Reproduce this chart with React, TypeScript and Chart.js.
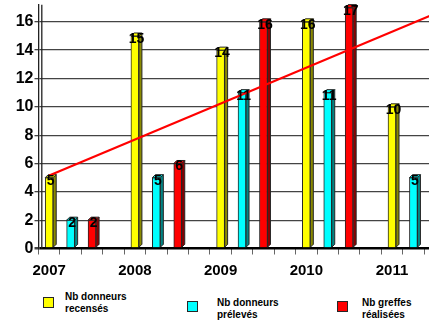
import React, { useEffect, useRef } from "react";
import { Chart, registerables } from "chart.js";

Chart.register(...registerables);

// Values per year
const years = ["2007", "2008", "2009", "2010", "2011"];
const recenses = [5, 15, 14, 16, 10];
const preleves = [2, 5, 11, 11, 5];
const greffes: (number | null)[] = [2, 6, 16, 17, null];

// Straight trend line, value at the first and at the last slot
const trendStart = 5.15;
const trendEnd = 17.2;

const seriesNames = ["Nb donneurs recensés", "Nb donneurs prélevés", "Nb greffes réalisées"];
const yTicks = [0, 2, 4, 6, 8, 10, 12, 14, 16];

// Each year takes four slots on the axis: three bars and a gap
const SLOTS = 4;
const slotLabels = years.flatMap((y) => [y, "", "", ""]);
const place = (values: (number | null)[], offset: number) => {
  const out: (number | null)[] = new Array(years.length * SLOTS).fill(null);
  values.forEach((v, i) => (out[i * SLOTS + offset] = v));
  return out;
};
const trendData = (() => {
  const out: (number | null)[] = new Array(years.length * SLOTS).fill(null);
  out[0] = trendStart;
  out[out.length - 1] = trendEnd;
  return out;
})();

const FRONT = ["#ffff00", "#00ffff", "#ff0000"];
const SIDE = ["#8a8a00", "#008585", "#8a0000"];
const EDGE = "#262626";
const DEPTH = 3;
const FONT = "'Liberation Sans', Arial, Helvetica, sans-serif";

const bar3d = {
  id: "bar3d",
  beforeDatasetsDraw(chart: any) {
    const { ctx, chartArea } = chart;
    ctx.save();
    ctx.strokeStyle = "#222";
    ctx.lineWidth = 1.3;
    ctx.beginPath();
    ctx.moveTo(chartArea.left + 3.3, chartArea.top);
    ctx.lineTo(chartArea.left + 3.3, chartArea.bottom);
    ctx.stroke();
    ctx.restore();
  },
  afterDatasetDraw(chart: any, args: any) {
    const meta = args.meta;
    if (meta.type !== "bar") return;
    const ds = chart.data.datasets[args.index];
    const seriesIdx = ds.seriesIndex;
    const { ctx } = chart;
    ctx.save();
    ctx.lineWidth = 1;
    ctx.strokeStyle = EDGE;
    meta.data.forEach((el: any, i: number) => {
      if (ds.data[i] == null) return;
      const { x, y, base, width } = el.getProps(["x", "y", "base", "width"], true);
      const l = x - width / 2;
      const r = x + width / 2;
      // side face
      ctx.fillStyle = SIDE[seriesIdx];
      ctx.beginPath();
      ctx.moveTo(r, y);
      ctx.lineTo(r + DEPTH, y - DEPTH);
      ctx.lineTo(r + DEPTH, base - DEPTH);
      ctx.lineTo(r, base);
      ctx.closePath();
      ctx.fill();
      ctx.stroke();
      // top face
      ctx.fillStyle = FRONT[seriesIdx];
      ctx.beginPath();
      ctx.moveTo(l, y);
      ctx.lineTo(l + DEPTH, y - DEPTH);
      ctx.lineTo(r + DEPTH, y - DEPTH);
      ctx.lineTo(r, y);
      ctx.closePath();
      ctx.fill();
      ctx.stroke();
    });
    ctx.restore();
  },
  afterDatasetsDraw(chart: any) {
    const { ctx, chartArea } = chart;
    ctx.save();
    ctx.beginPath();
    ctx.rect(chartArea.left, chartArea.top, chartArea.right - chartArea.left, chartArea.bottom - chartArea.top);
    ctx.clip();
    ctx.font = `bold 14px ${FONT}`;
    ctx.textAlign = "center";
    ctx.textBaseline = "alphabetic";
    ctx.fillStyle = "#000";
    chart.data.datasets.forEach((ds: any, di: number) => {
      if (ds.type !== "bar") return;
      const meta = chart.getDatasetMeta(di);
      meta.data.forEach((el: any, i: number) => {
        const v = ds.data[i];
        if (v == null) return;
        const { x, y } = el.getProps(["x", "y"], true);
        ctx.fillText(String(v), x + 1.5, y + 7);
      });
    });
    ctx.restore();
  },
};

function ChartCanvas() {
  const ref = useRef<HTMLCanvasElement>(null);
  useEffect(() => {
    if (!ref.current) return;
    const series = [recenses, preleves, greffes];
    const chart = new Chart(ref.current, {
      type: "bar",
      data: {
        labels: slotLabels,
        datasets: [
          {
            type: "line",
            label: "Tendance",
            data: trendData,
            borderColor: "#ff0000",
            borderWidth: 2.2,
            pointRadius: 0,
            spanGaps: true,
            tension: 0,
            order: 0,
          } as any,
          ...series.map((vals, s) => ({
            type: "bar",
            label: seriesNames[s],
            seriesIndex: s,
            data: place(vals, s),
            backgroundColor: FRONT[s],
            borderColor: EDGE,
            borderWidth: 1,
            barThickness: 8,
            grouped: false,
            order: 1,
          })),
        ] as any,
      },
      options: {
        animation: false,
        responsive: false,
        layout: { padding: { top: 4.8, left: 0, right: 3, bottom: 0 } },
        plugins: { legend: { display: false }, tooltip: { enabled: false } },
        scales: {
          x: {
            type: "category",
            offset: true,
            grid: {
              offset: true,
              drawOnChartArea: false,
              drawTicks: true,
              tickLength: 6,
              color: "#666",
            },
            border: { display: false },
            ticks: {
              autoSkip: false,
              maxRotation: 0,
              minRotation: 0,
              padding: 7.5,
              color: "#000",
              font: { family: FONT, size: 15, weight: "bold" },
            },
            afterFit(scale: any) {
              scale.height = 36.5;
              scale.paddingLeft = 0;
              scale.paddingRight = 0;
            },
          },
          y: {
            min: 0,
            max: 17.2,
            grid: {
              color: (c: any) => (c.tick && c.tick.value === 0 ? "#000" : "#444"),
              lineWidth: (c: any) => (c.tick && c.tick.value === 0 ? 2.5 : 1.3),
              drawTicks: true,
              tickLength: 4,
              tickColor: "#444",
            },
            border: { display: true, color: "#222", width: 1.3 },
            ticks: {
              padding: 1,
              color: "#000",
              font: { family: FONT, size: 16, weight: "bold" },
            },
            afterBuildTicks(scale: any) {
              scale.ticks = yTicks.map((v) => ({ value: v }));
            },
            afterFit(scale: any) {
              scale.width = 38.5;
              scale.paddingTop = 0;
              scale.paddingBottom = 0;
            },
          },
        },
      } as any,
      plugins: [bar3d],
    });
    return () => chart.destroy();
  }, []);
  return <canvas ref={ref} width={470} height={285} style={{ display: "block" }} />;
}

const legendItems = [
  { name: ["Nb donneurs", "recensés"], color: FRONT[0], mx: 43, my: 297, tx: 65, ty: 290.5 },
  { name: ["Nb donneurs", "prélevés"], color: FRONT[1], mx: 187, my: 301, tx: 217, ty: 296.5 },
  { name: ["Nb greffes", "réalisées"], color: FRONT[2], mx: 337, my: 301, tx: 362, ty: 296.5 },
];

export default function App() {
  return (
    <div
      style={{
        position: "absolute",
        left: 0,
        top: 0,
        width: 429,
        height: 322,
        overflow: "hidden",
        background: "#fff",
      }}
    >
      <ChartCanvas />
      {legendItems.map((it) => (
        <React.Fragment key={it.name.join(" ")}>
          <div
            style={{
              position: "absolute",
              left: it.mx,
              top: it.my,
              width: 9,
              height: 9,
              background: it.color,
              border: `1px solid ${EDGE}`,
            }}
          />
          <div
            style={{
              position: "absolute",
              left: it.tx,
              top: it.ty,
              font: `bold 10px ${FONT}`,
              lineHeight: "12.5px",
              color: "#000",
              whiteSpace: "nowrap",
            }}
          >
            {it.name[0]}
            <br />
            {it.name[1]}
          </div>
        </React.Fragment>
      ))}
    </div>
  );
}
